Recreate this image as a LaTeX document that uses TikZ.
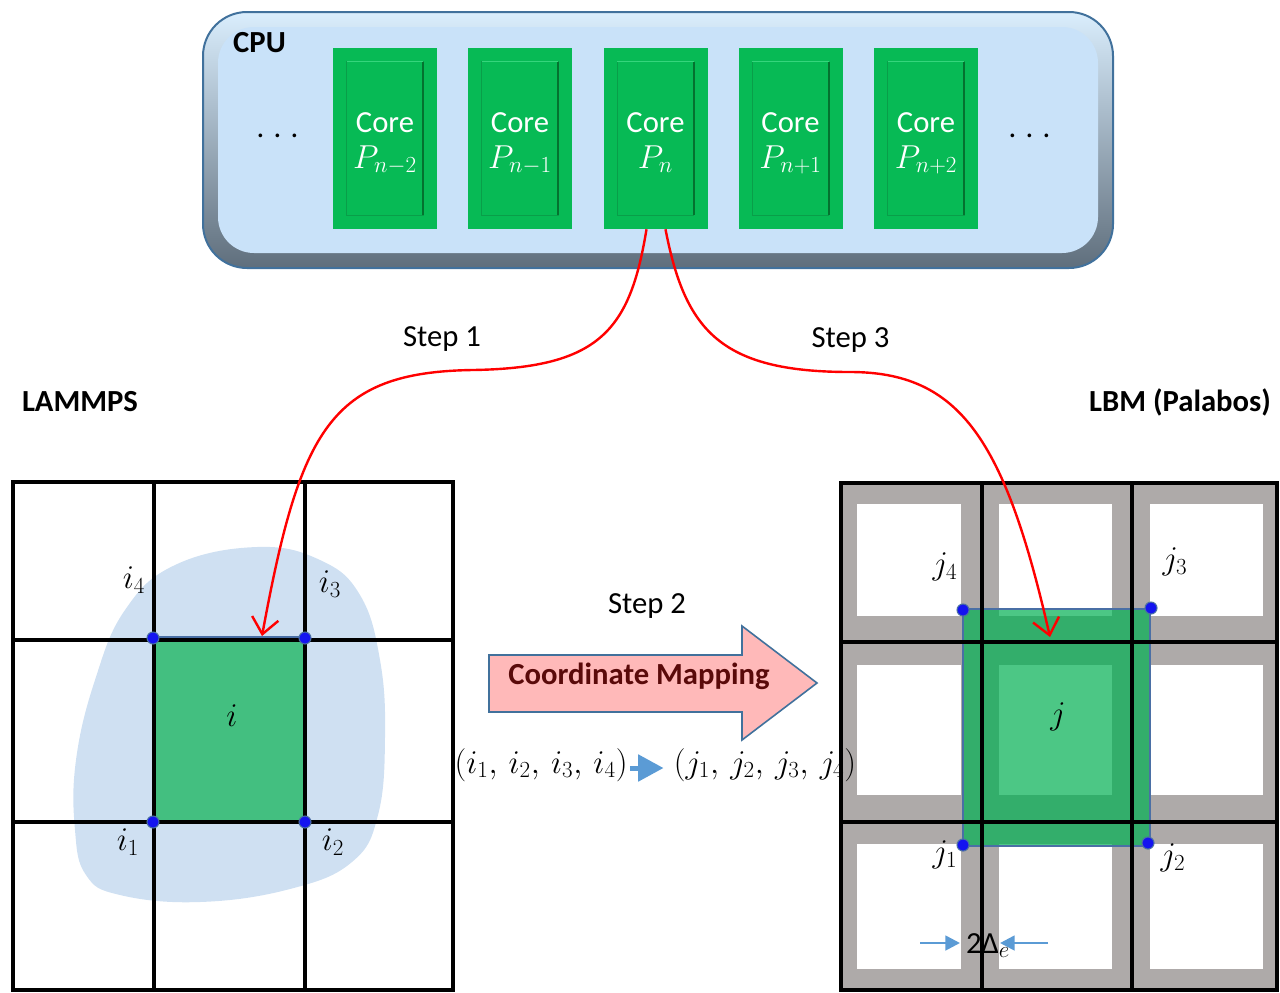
\documentclass[tikz,border=0pt]{standalone}
\usepackage{fontspec}
\setmainfont{Carlito}
\usetikzlibrary{arrows.meta,calc}
\definecolor{cpuface}{HTML}{C9E2F9}
\definecolor{cputop}{HTML}{DAEEFD}
\definecolor{cpubot}{HTML}{5F6E7C}
\definecolor{cpuedge}{HTML}{41719C}
\definecolor{coreg}{HTML}{07BA55}
\definecolor{coredark}{HTML}{04722F}
\definecolor{corelight}{HTML}{35D57C}
\definecolor{coreline}{HTML}{099E49}
\definecolor{blobc}{HTML}{CFE0F2}
\definecolor{gl}{HTML}{43BF80}
\definecolor{grayc}{HTML}{AEAAA9}
\definecolor{gr}{HTML}{00B052}
\definecolor{dotblue}{HTML}{1414F0}
\definecolor{dotedge}{HTML}{4A6FA5}
\definecolor{pinkc}{HTML}{FFB9B9}
\definecolor{darkredc}{HTML}{5A0A0A}
\definecolor{lblue}{HTML}{5B9BD5}
\begin{document}
\begin{tikzpicture}[x=0.75pt,y=-0.75pt,
  txt/.style={font=\fontsize{23}{27}\selectfont, inner sep=0pt, anchor=base},
  btxt/.style={font=\fontsize{23}{27}\selectfont\bfseries, inner sep=0pt, anchor=base},
  corebox/.style={fill=coreg, minimum width=78pt, minimum height=135.75pt, inner sep=0pt},
  coretxt/.style={txt, text=white},
  mlab/.style={font=\fontsize{24}{28}\selectfont, inner sep=0pt},
  gridline/.style={line width=3.3pt, line cap=rect},
  vdot/.style={circle, fill=dotblue, draw=dotedge, line width=0.8pt, minimum size=9pt, inner sep=0pt},
  redarr/.style={draw=red, line width=1.8pt, -{Straight Barb[length=12pt,width=20pt,line width=1.8pt]}},
  bluearr/.style={draw=lblue, line width=2pt, -{Triangle[length=11pt,width=11pt]}},
  midarr/.style={draw=lblue, line width=3.75pt, -{Triangle[length=19pt,width=19.5pt]}}
]
\useasboundingbox (0,0) rectangle (1280,992);

% ---------- left grid (LAMMPS) ----------
\fill[blobc] plot[smooth cycle, tension=0.7] coordinates {(257,547) (320,560) (360,595) (380,660) (385,737) (378,815) (352,862) (290,889) (200,902) (120,895) (86,875) (75,830) (76,760) (95,680) (125,610) (175,565)};
\fill[gl] (154,637) rectangle (305,822);
\draw[dotedge, line width=1pt] (154,637) -- (305,637);
\draw[gridline] (13,482) rectangle (453,990);
\draw[gridline] (154,482) -- (154,990);
\draw[gridline] (305,482) -- (305,990);
\draw[gridline] (13,640) -- (453,640);
\draw[gridline] (13,822) -- (453,822);
\node[vdot] (i4d) at (153,638) {};
\node[vdot] (i3d) at (305,638) {};
\node[vdot] (i1d) at (153,822) {};
\node[vdot] (i2d) at (305,822) {};
\node[mlab] (li4) at (134,580) {$i_4$};
\node[mlab] (li3) at (330,584) {$i_3$};
\node[mlab] (li1) at (128,842) {$i_1$};
\node[mlab] (li2) at (333,842) {$i_2$};
\node[mlab] (li) at (232,716) {$i$};

% ---------- right grid (LBM) ----------
\fill[grayc] (841,483) rectangle (1277,990);
\foreach \xa/\xb in {857/961,999/1112,1150/1263}{
  \foreach \ya/\yb in {504/616,665/795,844/969}{
    \fill[white] (\xa,\ya) rectangle (\xb,\yb);
  }
}
\fill[gr, fill opacity=0.7] (963,609) rectangle (1150,846);
\draw[dotedge, line width=1pt] (963,609) rectangle (1150,846);
\draw[gridline] (841,483) rectangle (1277,990);
\draw[gridline] (982,483) -- (982,990);
\draw[gridline] (1132,483) -- (1132,990);
\draw[gridline] (841,642) -- (1277,642);
\draw[gridline] (841,822) -- (1277,822);
\node[vdot] (j4d) at (963,610) {};
\node[vdot] (j3d) at (1151,608) {};
\node[vdot] (j1d) at (963,845) {};
\node[vdot] (j2d) at (1148,843) {};
\node[mlab] (lj4) at (945,567) {$j_4$};
\node[mlab] (lj3) at (1175,562) {$j_3$};
\node[mlab] (lj1) at (945,855) {$j_1$};
\node[mlab] (lj2) at (1173,858) {$j_2$};
\node[mlab] (lj) at (1058,717) {$j$};
\node[txt] (de) at (988,953) {2Δ$_e$};
\coordinate (dlA) at (920,943);
\coordinate (dlB) at (960,943);
\coordinate (drA) at (1048,943);
\coordinate (drB) at (1000,943);
\draw[bluearr] (dlA) -- (dlB);
\draw[bluearr] (drA) -- (drB);

% ---------- coordinate mapping arrow ----------
\draw[fill=pinkc, draw=cpuedge, line width=1.2pt, line join=miter] (489,655) -- (742,655) -- (742,626) -- (817,683) -- (742,740) -- (742,712) -- (489,712) -- cycle;
\node[btxt, text=darkredc] (cm) at (639,684) {Coordinate Mapping};
\node[txt] (s2) at (647,613) {Step 2};
\node[mlab, anchor=base] (itup) at (541,773) {$(i_1,\,i_2,\,i_3,\,i_4)$};
\node[mlab, anchor=base] (jtup) at (765,773) {$(j_1,\,j_2,\,j_3,\,j_4)$};
\draw[midarr] ($(itup.base east)+(2,-5)$) -- ($(jtup.base west)+(-10,-5)$);

% ---------- CPU ----------
\draw[draw=cpuedge, line width=1.5pt, rounded corners=33pt, top color=cputop, bottom color=cpubot] (203,12) rectangle (1113,268);
\fill[cpuface, rounded corners=27pt] (218,27) rectangle (1098,253);
\node[btxt] (cpu) at (259.5,52) {CPU};
\node[txt] (dotsl) at (277.5,137) {.\hspace{7pt}.\hspace{7pt}.};
\node[txt] (dotsr) at (1029.5,137) {.\hspace{7pt}.\hspace{7pt}.};
\foreach \cx/\nm/\sub in {385/c1/n-2,520/c2/n-1,655.5/c3/n,790.5/c4/n+1,926/c5/n+2}{
  \node[corebox] (\nm) at (\cx,138.5) {};
  \draw[coreline, line width=1pt] ($(\nm.south west)+(14,-14)$) rectangle ($(\nm.north east)+(-14,14)$);
  \draw[coredark, line width=1.5pt] ($(\nm.south east)+(-14,-14)$) -- ($(\nm.north east)+(-14,14)$);
  \draw[corelight, line width=1pt] ($(\nm.north west)+(14,14)$) -- ($(\nm.north east)+(-14,14)$);
  \node[coretxt] (\nm-t) at (\cx,132) {Core};
  \node[coretxt] (\nm-p) at (\cx,168) {$P_{\sub}$};
}

% ---------- labels ----------
\node[txt] (s1) at (442,346) {Step 1};
\node[txt] (s3) at (850.5,347) {Step 3};
\node[btxt] (lam) at (80,411) {LAMMPS};
\node[btxt] (lbm) at (1180,411) {LBM (Palabos)};

% ---------- steps ----------
\coordinate (tipL) at (262,636);
\coordinate (tipR) at (1050,637);
\draw[redarr] ($(c3.south)+(-9,0)$) .. controls (630,330) and (600,368) .. (473,370) .. controls (330,372) and (300,430) .. (tipL);
\draw[redarr] ($(c3.south)+(10,0)$) .. controls (685,330) and (720,372) .. (850,372) .. controls (960,372) and (1005,440) .. (tipR);
\end{tikzpicture}
\end{document}
